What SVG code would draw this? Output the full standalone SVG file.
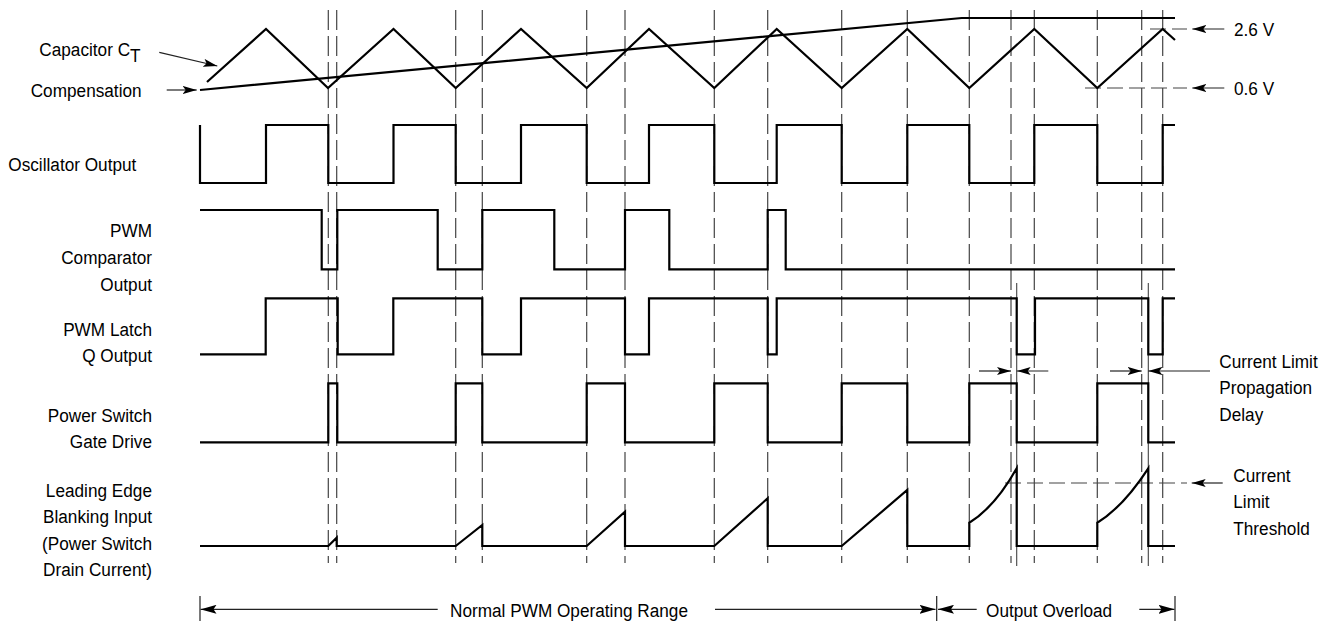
<svg xmlns="http://www.w3.org/2000/svg" width="1329" height="621" viewBox="0 0 1329 621">
<style>
  .bg{fill:#fff}
  .sig{fill:none;stroke:#000;stroke-width:2.2;stroke-linejoin:miter;stroke-linecap:butt}
  .grid{fill:none;stroke:#444;stroke-width:1.2;stroke-dasharray:20 6}
  .href{fill:none;stroke:#444;stroke-width:1.2;stroke-dasharray:16 6}
  .thin{fill:none;stroke:#444;stroke-width:1.1}
  .arr{fill:none;stroke:#222;stroke-width:1.2}
  .lbl{font-family:"Liberation Sans",Arial,sans-serif;font-size:18.6px;fill:#000}
  .end{text-anchor:end}
</style>
<defs>
  <marker id="ah" viewBox="0 0 14 8" refX="14" refY="4" markerWidth="14" markerHeight="8" markerUnits="userSpaceOnUse" orient="auto">
    <path d="M0,0 L14,4 L0,8 L3,4 z" fill="#000"/>
  </marker>
  <marker id="ahb" viewBox="0 0 16 9" refX="16" refY="4.5" markerWidth="16" markerHeight="9" markerUnits="userSpaceOnUse" orient="auto">
    <path d="M0,0 L16,4.5 L0,9 L3,4.5 z" fill="#000"/>
  </marker>
</defs>
<rect class="bg" x="0" y="0" width="1329" height="621"/>

<g id="gridlines">
  <path class="grid" d="M328.3,10V563 M336.7,10V563 M455.7,10V563 M482.3,10V563 M586.7,10V563 M625,10V563 M714.3,10V563 M767.7,10V563 M841.7,10V563 M907.3,10V563 M969.3,10V563 M1011,10V563 M1034.3,10V563 M1097.3,10V563 M1141.7,10V563 M1162.7,10V563"/>
  <path class="thin" d="M1016.7,283V566 M1148.3,283V566"/>
  <path class="href" d="M1150,29H1187 M1085,88H1187 M1005,483H1187"/>
</g>

<g id="sig-ct">
  <path class="sig" d="M207,82 L266,29 L328,88 L393.5,29 L455.7,88 L521,29 L586.7,88 L649,29 L714.3,88 L776.7,29 L841.7,88 L907.3,29 L969.3,88 L1034.3,29 L1097.3,88 L1162.7,29 L1175,40"/>
</g>
<g id="sig-comp">
  <path class="sig" d="M200,90 L961.7,18 H1175"/>
</g>
<g id="sig-osc">
  <path class="sig" d="M200,125 V183 H266 V125 H328.3 V183 H393.5 V125 H455.7 V183 H521 V125 H586.7 V183 H649 V125 H714.3 V183 H776.7 V125 H841.7 V183 H907.3 V125 H969.3 V183 H1034.3 V125 H1097.3 V183 H1162.7 V125 H1175"/>
</g>
<g id="sig-pwmcomp">
  <path class="sig" d="M200,210 H321.7 V269.3 H337.3 V210 H437.7 V269.3 H482.3 V210 H554.3 V269.3 H625 V210 H669.3 V269.3 H767.7 V210 H785.7 V269.3 H1175"/>
</g>
<g id="sig-latch">
  <path class="sig" d="M200,354.3 H265.7 V298.3 H337.7 V354.3 H393.3 V298.3 H482.3 V354.3 H521 V298.3 H625 V354.3 H649 V298.3 H767.7 V354.3 H776.7 V298.3 H1016.7 V354.3 H1035 V298.3 H1148.3 V354.3 H1162.7 V298.3 H1175"/>
</g>
<g id="sig-gate">
  <path class="sig" d="M200,442.3 H328.3 V383.3 H337.3 V442.3 H455.7 V383.3 H482.3 V442.3 H586.7 V383.3 H625 V442.3 H714.3 V383.3 H767.7 V442.3 H841.7 V383.3 H907.3 V442.3 H969.3 V383.3 H1016.7 V442.3 H1097.3 V383.3 H1148.3 V442.3 H1175"/>
</g>
<g id="sig-leb">
  <path class="sig" d="M200,546 H328.3 L336.7,537.7 V546 H455.7 L482.3,525 V546 H586.7 L625,511.7 V546 H714.3 L767.7,498.3 V546 H841.7 L907.3,490 V546 H969.3 V522.7 Q995,507 1016.7,468.3 V546 H1097.3 V522.7 Q1123,507 1148.3,468.3 V546 H1175"/>
</g>

<g id="connectors">
  <path class="arr" d="M159.3,52.3 L217.3,66" marker-end="url(#ah)"/>
  <path class="arr" d="M166.7,90 L196.7,90" marker-end="url(#ah)"/>
  <path class="arr" d="M1224.3,29 L1192.3,29" marker-end="url(#ah)"/>
  <path class="arr" d="M1224.3,88 L1192.3,88" marker-end="url(#ah)"/>
  <path class="arr" d="M1222.7,483 L1191.7,483" marker-end="url(#ah)"/>
  <path class="arr" d="M979,371 L1011,371" marker-end="url(#ah)"/>
  <path class="arr" d="M1048.3,371 L1016.7,371" marker-end="url(#ah)"/>
  <path class="arr" d="M1110,371 L1141.7,371" marker-end="url(#ah)"/>
  <path class="arr" d="M1210,371 L1148.3,371" marker-end="url(#ah)"/>
  <path class="arr" d="M437.7,609.3 L200.5,609.3" marker-end="url(#ahb)"/>
  <path class="arr" d="M715,609.3 L935.5,609.3" marker-end="url(#ahb)"/>
  <path class="arr" d="M976.7,609.3 L938,609.3" marker-end="url(#ahb)"/>
  <path class="arr" d="M1139.3,609.3 L1174.5,609.3" marker-end="url(#ahb)"/>
  <path class="arr" d="M200,596V621 M936.7,596V621 M1175,596V621"/>
</g>

<g id="labels">
  <text class="lbl" transform="translate(39.3,56) scale(0.925,1)">Capacitor C<tspan dy="6">T</tspan></text>
  <text class="lbl" transform="translate(30.7,96.7) scale(0.925,1)">Compensation</text>
  <text class="lbl" transform="translate(8.3,170.7) scale(0.925,1)">Oscillator Output</text>
  <text class="lbl end" transform="translate(152,236.7) scale(0.925,1)">PWM</text>
  <text class="lbl end" transform="translate(152,264) scale(0.925,1)">Comparator</text>
  <text class="lbl end" transform="translate(152,290.7) scale(0.925,1)">Output</text>
  <text class="lbl end" transform="translate(152,335.7) scale(0.925,1)">PWM Latch</text>
  <text class="lbl end" transform="translate(152,362.3) scale(0.925,1)">Q Output</text>
  <text class="lbl end" transform="translate(152,421.7) scale(0.925,1)">Power Switch</text>
  <text class="lbl end" transform="translate(152,448.3) scale(0.925,1)">Gate Drive</text>
  <text class="lbl end" transform="translate(152,496.7) scale(0.925,1)">Leading Edge</text>
  <text class="lbl end" transform="translate(152,523.3) scale(0.925,1)">Blanking Input</text>
  <text class="lbl end" transform="translate(152,550) scale(0.925,1)">(Power Switch</text>
  <text class="lbl end" transform="translate(152,576.3) scale(0.925,1)">Drain Current)</text>
  <text class="lbl" transform="translate(1234,36) scale(0.925,1)">2.6 V</text>
  <text class="lbl" transform="translate(1234,95) scale(0.925,1)">0.6 V</text>
  <text class="lbl" transform="translate(1219.3,368.3) scale(0.925,1)">Current Limit</text>
  <text class="lbl" transform="translate(1219.3,394.3) scale(0.925,1)">Propagation</text>
  <text class="lbl" transform="translate(1219.3,420.7) scale(0.925,1)">Delay</text>
  <text class="lbl" transform="translate(1233.3,481.7) scale(0.925,1)">Current</text>
  <text class="lbl" transform="translate(1233.3,508.3) scale(0.925,1)">Limit</text>
  <text class="lbl" transform="translate(1233.3,535) scale(0.925,1)">Threshold</text>
  <text class="lbl" transform="translate(450,616.7) scale(0.925,1)">Normal PWM Operating Range</text>
  <text class="lbl" transform="translate(986,616.7) scale(0.925,1)">Output Overload</text>
</g>
</svg>
